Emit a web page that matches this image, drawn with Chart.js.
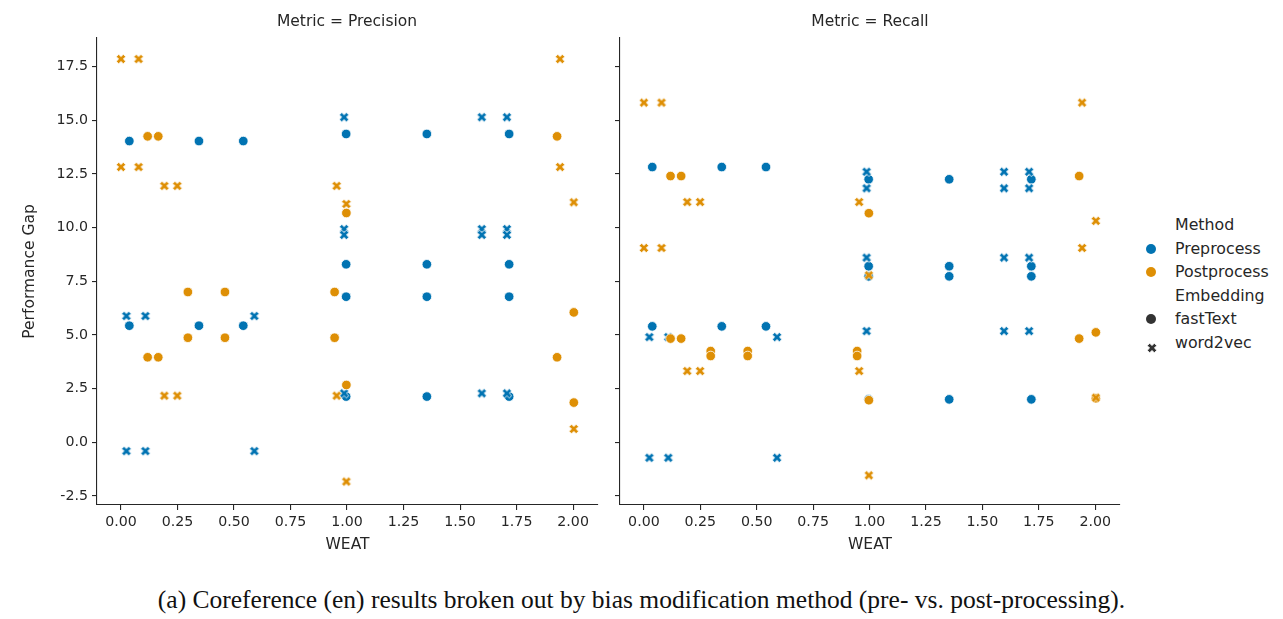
<!DOCTYPE html>
<html>
<head>
<meta charset="utf-8">
<script src="https://cdn.jsdelivr.net/npm/chart.js@4"></script>
<style>
  body { margin: 0; background: #fff; }
  #wrap { position: relative; width: 1283px; height: 619px; font-family: "DejaVu Sans", sans-serif; color: #262626; }
  .panel { position: absolute; top: 0; height: 560px; }
  .ptitle { position: absolute; top: 12px; font-size: 15.5px; line-height: 19px; transform: translateX(-50%); white-space: nowrap; }
  #legend { position: absolute; left: 1140px; top: 213px; font-size: 15.8px; line-height: 23.6px; }
  #legend div { position: relative; padding-left: 35px; white-space: nowrap; }
  #legend i { position: absolute; left: 6px; top: 7px; width: 10px; height: 10px; border-radius: 50%; }
  #caption { position: absolute; top: 585px; left: 0; width: 1283px; text-align: center; font-family: "Liberation Serif", serif; font-size: 25.5px; line-height: 29px; color: #111; }
</style>
</head>
<body>
<div id="wrap">
  <div class="panel" style="left:0;width:610px"><canvas id="cPrec"></canvas></div>
  <div class="panel" style="left:610px;width:520px"><canvas id="cRec"></canvas></div>
  <div class="ptitle" style="left:347px">Metric = Precision</div>
  <div class="ptitle" style="left:870px">Metric = Recall</div>
  <div id="legend">
    <div>Method</div>
    <div><i style="background:#0173b2"></i>Preprocess</div>
    <div><i style="background:#de8f05"></i>Postprocess</div>
    <div>Embedding</div>
    <div><i style="background:#333"></i>fastText</div>
    <div><span id="xlegend" style="position:absolute;left:6px;top:6px"></span>word2vec</div>
  </div>
  <div id="caption">(a) Coreference (en) results broken out by bias modification method (pre- vs. post-processing).</div>
</div>
<script>
// ---- data (WEAT, Performance Gap) ----
const xTicks = [0, 0.25, 0.5, 0.75, 1.0, 1.25, 1.5, 1.75, 2.0];
const yTicks = [-2.5, 0, 2.5, 5, 7.5, 10, 12.5, 15, 17.5];

const precPreFast = [[0.037,14.03],[0.345,14.03],[0.541,14.03],[0.037,5.43],[0.345,5.43],[0.541,5.43],
  [0.996,14.36],[1.353,14.36],[1.717,14.36],[0.996,8.29],[1.353,8.29],[1.717,8.29],
  [0.996,6.78],[1.353,6.78],[1.717,6.78],[0.996,2.13],[1.353,2.13],[1.717,2.13]];
const precPreW2v = [[0.987,15.14],[1.596,15.14],[1.707,15.14],[0.987,9.93],[1.596,9.93],[1.707,9.93],
  [0.987,9.66],[1.596,9.66],[1.707,9.66],[0.987,2.28],[1.596,2.28],[1.707,2.28],
  [0.024,5.88],[0.108,5.88],[0.590,5.88],[0.024,-0.41],[0.108,-0.41],[0.590,-0.41]];
const precPostFast = [[0.118,14.25],[0.165,14.25],[1.929,14.25],[0.296,7.0],[0.460,7.0],[0.945,7.0],
  [0.296,4.87],[0.460,4.87],[0.945,4.87],[0.118,3.96],[0.165,3.96],[1.929,3.96],
  [0.997,10.68],[0.997,2.67],[2.003,6.05],[2.003,1.85]];
const precPostW2v = [[0,17.85],[0.078,17.85],[1.942,17.85],[0,12.82],[0.078,12.82],[1.942,12.82],
  [0.192,11.94],[0.249,11.94],[0.954,11.94],[0.192,2.17],[0.249,2.17],[0.954,2.17],
  [0.997,11.1],[0.997,-1.83],[2.003,11.18],[2.003,0.62]];

const recPreFast = [[0.037,12.82],[0.345,12.82],[0.541,12.82],[0.037,5.40],[0.345,5.40],[0.541,5.40],
  [0.996,12.25],[1.353,12.25],[1.717,12.25],[0.996,8.20],[1.353,8.20],[1.717,8.20],
  [0.996,7.73],[1.353,7.73],[1.717,7.73],[0.996,2.00],[1.353,2.00],[1.717,2.00]];
const recPreW2v = [[0.987,12.60],[1.596,12.60],[1.707,12.60],[0.987,11.83],[1.596,11.83],[1.707,11.83],
  [0.987,8.60],[1.596,8.60],[1.707,8.60],[0.987,5.18],[1.596,5.18],[1.707,5.18],
  [0.024,4.90],[0.108,4.90],[0.590,4.90],[0.024,-0.72],[0.108,-0.72],[0.590,-0.72]];
const recPostFast = [[0.118,12.40],[0.165,12.40],[1.929,12.40],[0.296,4.25],[0.460,4.25],[0.945,4.25],
  [0.296,4.02],[0.460,4.02],[0.945,4.02],[0.118,4.83],[0.165,4.83],[1.929,4.83],
  [0.997,10.67],[0.997,1.96],[2.003,5.12],[2.003,2.05]];
const recPostW2v = [[0,15.82],[0.078,15.82],[1.942,15.82],[0,9.05],[0.078,9.05],[1.942,9.05],
  [0.192,11.19],[0.249,11.19],[0.954,11.19],[0.192,3.32],[0.249,3.32],[0.954,3.32],
  [0.997,7.78],[0.997,-1.54],[2.003,10.31],[2.003,2.08]];

const BLUE = '#0173b2', ORANGE = '#de8f05';

// filled "X" marker like matplotlib's 'X'
function xMarker(color, size) {
  const c = document.createElement('canvas');
  c.width = c.height = size + 2;
  const g = c.getContext('2d');
  const m = (size + 2) / 2, r = size / 2, w = size * 0.17;
  const pts = [[-w,-r],[w,-r],[w,-w],[r,-w],[r,w],[w,w],[w,r],[-w,r],[-w,w],[-r,w],[-r,-w],[-w,-w]];
  const a = Math.PI / 4;
  g.beginPath();
  pts.forEach(([px, py], i) => {
    const x = m + px * Math.cos(a) - py * Math.sin(a);
    const y = m + px * Math.sin(a) + py * Math.cos(a);
    i ? g.lineTo(x, y) : g.moveTo(x, y);
  });
  g.closePath();
  g.fillStyle = color; g.fill();
  g.strokeStyle = '#fff'; g.lineWidth = 0.8; g.stroke();
  return c;
}
const xBlue = xMarker(BLUE, 10), xOrange = xMarker(ORANGE, 10);
document.getElementById('xlegend').appendChild(xMarker('#333', 10));

const toPts = arr => arr.map(([x, y]) => ({ x, y }));

function datasets(preFast, preW2v, postFast, postW2v) {
  const dot = c => ({ pointStyle: 'circle', pointRadius: 4.8, backgroundColor: c, borderColor: '#fff', borderWidth: 0.8 });
  // first dataset is painted on top
  return [
    { label: 'Post w2v', data: toPts(postW2v), pointStyle: xOrange, pointRadius: 5 },
    { label: 'Post fastText', data: toPts(postFast), ...dot(ORANGE) },
    { label: 'Pre w2v', data: toPts(preW2v), pointStyle: xBlue, pointRadius: 5 },
    { label: 'Pre fastText', data: toPts(preFast), ...dot(BLUE) }
  ];
}

const axisLine = { display: true, color: '#262626', width: 1.1 };
const gridTicks = { display: true, drawOnChartArea: false, drawTicks: true, tickLength: 5, color: '#262626', lineWidth: 1.1 };
const tickFont = { family: 'DejaVu Sans', size: 14.2 };
const labelFont = { family: 'DejaVu Sans', size: 15.5 };

function makeChart(id, data, showY) {
  return new Chart(document.getElementById(id), {
    type: 'scatter',
    data: { datasets: data },
    options: {
      responsive: true, maintainAspectRatio: false, animation: false,
      layout: { padding: { left: 0, top: 38, right: showY ? 12 : 10, bottom: 0 } },
      plugins: { legend: { display: false }, tooltip: { enabled: false } },
      scales: {
        x: {
          type: 'linear', min: -0.106, max: 2.11,
          afterBuildTicks: s => { s.ticks = xTicks.map(v => ({ value: v })); },
          afterFit: s => { s.height = 55; },
          border: axisLine, grid: gridTicks,
          ticks: { font: tickFont, color: '#262626', padding: 4, maxRotation: 0, callback: v => v.toFixed(2) },
          title: { display: true, text: 'WEAT', font: labelFont, color: '#262626', padding: { top: 0, bottom: 6 } }
        },
        y: {
          type: 'linear', min: -2.92, max: 18.83,
          afterBuildTicks: s => { s.ticks = yTicks.map(v => ({ value: v })); },
          afterFit: s => { s.width = showY ? 97 : 10; },
          border: axisLine, grid: gridTicks,
          ticks: { display: showY, font: tickFont, color: '#262626', padding: 4, callback: v => v.toFixed(1) },
          title: { display: showY, text: 'Performance Gap', font: labelFont, color: '#262626', padding: { top: 21, bottom: 0 } }
        }
      }
    }
  });
}

makeChart('cPrec', datasets(precPreFast, precPreW2v, precPostFast, precPostW2v), true);
makeChart('cRec', datasets(recPreFast, recPreW2v, recPostFast, recPostW2v), false);
</script>
</body>
</html>
